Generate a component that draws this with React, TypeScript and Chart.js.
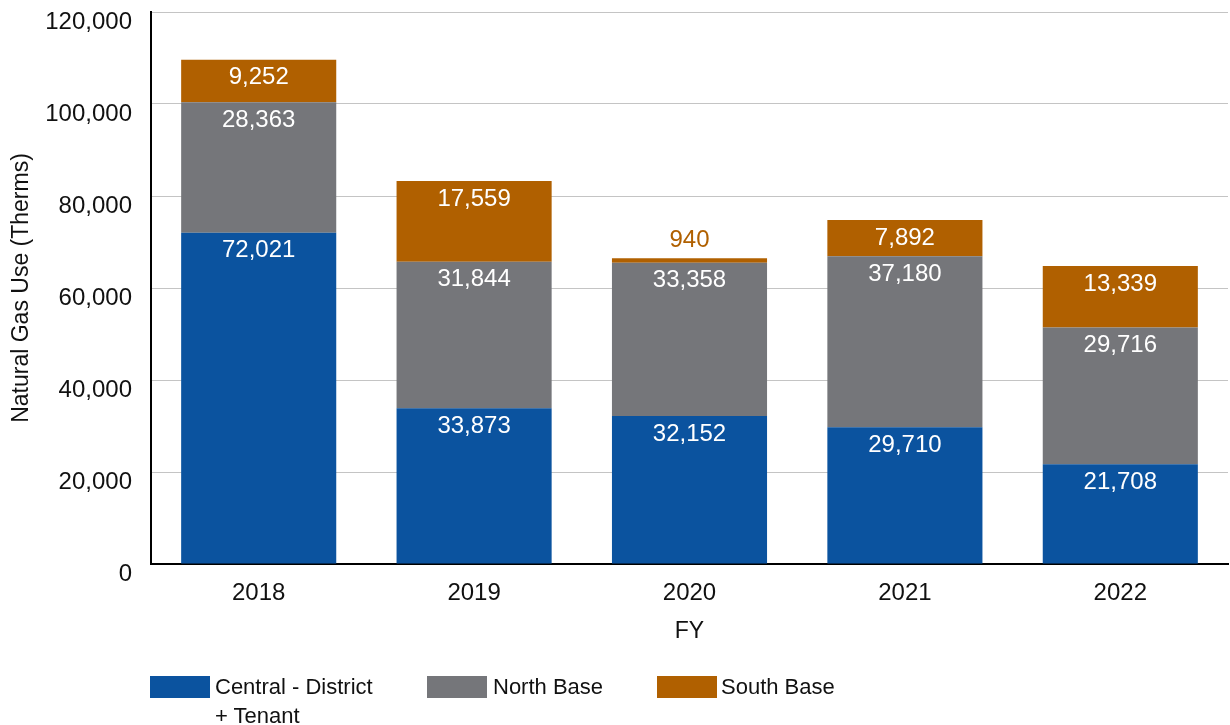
import React, { useEffect, useRef } from "react";
import { Chart, registerables } from "chart.js";

Chart.register(...registerables);

const categories = ["2018", "2019", "2020", "2021", "2022"];
const centralValues = [72021, 33873, 32152, 29710, 21708];
const northValues = [28363, 31844, 33358, 37180, 29716];
const southValues = [9252, 17559, 940, 7892, 13339];
const yTickValues = [0, 20000, 40000, 60000, 80000, 100000, 120000];
const seriesNames = ["Central - District + Tenant", "North Base", "South Base"];
const seriesColors = ["#0b539f", "#75767a", "#b06000"];

const FONT = "'Liberation Sans', Arial, sans-serif";

const labelPlugin = {
  id: "segLabels",
  afterDraw(chart: any) {
    const ctx = chart.ctx;
    ctx.save();
    ctx.font = `24px ${FONT}`;
    ctx.textBaseline = "middle";
    // y tick labels (offset below their gridlines, as in the reference)
    const ys = chart.scales.y;
    ctx.fillStyle = "#111111";
    ctx.textAlign = "right";
    yTickValues.forEach((v) => {
      ctx.fillText(v.toLocaleString("en-US"), chart.chartArea.left - 19, ys.getPixelForValue(v) + 10);
    });
    // segment labels
    ctx.textAlign = "center";
    chart.data.datasets.forEach((ds: any, di: number) => {
      const meta = chart.getDatasetMeta(di);
      meta.data.forEach((el: any, i: number) => {
        const v = ds.data[i];
        const h = Math.abs(el.base - el.y);
        const txt = v.toLocaleString("en-US");
        if (h < 30) {
          ctx.fillStyle = seriesColors[di];
          ctx.fillText(txt, el.x, el.y - 18);
        } else {
          ctx.fillStyle = "#ffffff";
          ctx.fillText(txt, el.x, el.y + 18);
        }
      });
    });
    ctx.restore();
  },
};

export default function App() {
  const ref = useRef<HTMLCanvasElement>(null);
  useEffect(() => {
    if (!ref.current) return;
    const chart = new Chart(ref.current, {
      type: "bar",
      data: {
        labels: categories,
        datasets: [
          { label: seriesNames[0], data: centralValues, backgroundColor: seriesColors[0] },
          { label: seriesNames[1], data: northValues, backgroundColor: seriesColors[1] },
          { label: seriesNames[2], data: southValues, backgroundColor: seriesColors[2] },
        ],
      },
      plugins: [labelPlugin],
      options: {
        responsive: false,
        animation: false,
        layout: { padding: { top: 12, right: 2, left: 0, bottom: 0 } },
        datasets: { bar: { barPercentage: 0.72, categoryPercentage: 1 } },
        plugins: { legend: { display: false }, tooltip: { enabled: false } },
        scales: {
          x: {
            stacked: true,
            grid: { display: false, drawTicks: false },
            border: { display: true, color: "#000000", width: 2 },
            ticks: { color: "#111111", font: { family: FONT, size: 24 }, padding: 15 },
            title: {
              display: true,
              text: "FY",
              color: "#111111",
              font: { family: FONT, size: 23 },
              padding: { top: 0, bottom: 80 },
            },
            afterFit: (s: any) => {
              s.height = 161;
            },
          },
          y: {
            stacked: true,
            min: 0,
            max: 120000,
            grid: { color: "#c4c4c4", lineWidth: 1, drawTicks: false },
            border: { display: true, color: "#000000", width: 2 },
            ticks: { display: false, stepSize: 20000 },
            title: {
              display: true,
              text: "Natural Gas Use (Therms)",
              color: "#111111",
              font: { family: FONT, size: 23 },
              padding: { top: 8, bottom: 0 },
            },
            afterFit: (s: any) => {
              s.width = 151;
            },
          },
        },
      },
    });
    return () => chart.destroy();
  }, []);

  const legendItems = [
    { left: 150, textLeft: 215, width: 170 },
    { left: 427, textLeft: 493, width: 200 },
    { left: 657, textLeft: 721, width: 200 },
  ];

  return (
    <div style={{ position: "absolute", left: 0, top: 0, width: 1230, height: 725, background: "#fff" }}>
      <canvas ref={ref} width={1230} height={725} style={{ display: "block" }} />
      {legendItems.map((it, i) => (
        <React.Fragment key={i}>
          <div
            style={{
              position: "absolute",
              left: it.left,
              top: 676,
              width: 60,
              height: 22,
              background: seriesColors[i],
            }}
          />
          <div
            style={{
              position: "absolute",
              left: it.textLeft,
              top: 672,
              width: it.width,
              fontFamily: FONT,
              fontSize: 22,
              lineHeight: "29px",
              color: "#111111",
            }}
          >
            {seriesNames[i]}
          </div>
        </React.Fragment>
      ))}
    </div>
  );
}
